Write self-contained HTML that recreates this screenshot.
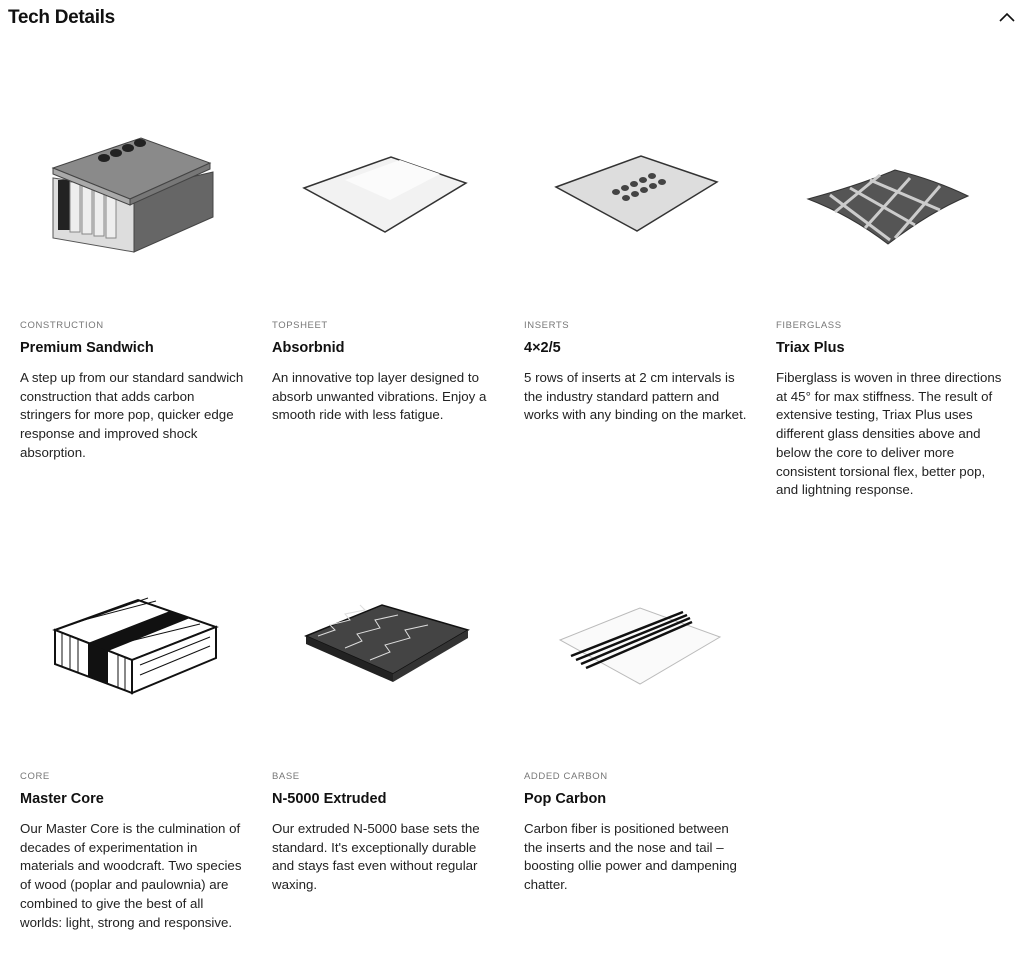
<!DOCTYPE html>
<html><head><meta charset="utf-8"><style>
body{margin:0;width:1024px;height:954px;background:#fff;font-family:"Liberation Sans",sans-serif;color:#111;position:relative;overflow:hidden}
.h{position:absolute;left:8px;top:7px;font-size:19px;font-weight:bold;letter-spacing:-0.3px}
.c{position:absolute;width:240px;white-space:nowrap}
.l{font-size:9.5px;color:#777;letter-spacing:0.6px;height:14px}
.t{font-size:14.5px;font-weight:bold;margin-top:6px;height:18px}
.b{font-size:13.3px;line-height:18.7px;margin-top:11px;color:#222}
svg{position:absolute;left:0;top:0}
</style></head><body>
<div class="h">Tech Details</div>
<svg width="1024" height="954">
<path d="M1000 21 L1007 14 L1014 21" stroke="#111" stroke-width="1.6" fill="none"/>
<!-- construction -->
<polygon points="53,178 53,238 134,252 134,190" fill="#ddd" stroke="#555"/>
<polygon points="134,190 134,252 213,217 213,172" fill="#666" stroke="#444"/>
<rect x="58" y="180" width="12" height="50" fill="#222"/>
<rect x="70" y="182" width="10" height="50" fill="#eee" stroke="#888"/>
<rect x="82" y="184" width="10" height="50" fill="#eee" stroke="#888"/>
<rect x="94" y="186" width="10" height="50" fill="#eee" stroke="#888"/>
<rect x="106" y="188" width="10" height="50" fill="#eee" stroke="#888"/>
<polygon points="53,168 141,138 210,163 130,199" fill="#8a8a8a" stroke="#444"/>
<polygon points="53,168 130,199 130,205 53,174" fill="#aaa" stroke="#444"/>
<polygon points="130,199 210,163 210,169 130,205" fill="#777" stroke="#444"/>
<g fill="#222"><ellipse cx="104" cy="158" rx="6" ry="4"/><ellipse cx="116" cy="153" rx="6" ry="4"/><ellipse cx="128" cy="148" rx="6" ry="4"/><ellipse cx="140" cy="143" rx="6" ry="4"/></g>
<!-- topsheet -->
<polygon points="304,188 391,157 466,183 385,232" fill="#f2f2f2" stroke="#333" stroke-width="1.5"/>
<polygon points="345,180 400,160 440,174 390,200" fill="#fbfbfb"/>
<!-- inserts -->
<polygon points="556,187 641,156 717,182 637,231" fill="#ddd" stroke="#333" stroke-width="1.5"/>
<g fill="#444"><ellipse cx="616" cy="192" rx="4" ry="3"/><ellipse cx="625" cy="188" rx="4" ry="3"/><ellipse cx="634" cy="184" rx="4" ry="3"/><ellipse cx="643" cy="180" rx="4" ry="3"/><ellipse cx="652" cy="176" rx="4" ry="3"/><ellipse cx="626" cy="198" rx="4" ry="3"/><ellipse cx="635" cy="194" rx="4" ry="3"/><ellipse cx="644" cy="190" rx="4" ry="3"/><ellipse cx="653" cy="186" rx="4" ry="3"/><ellipse cx="662" cy="182" rx="4" ry="3"/></g>
<!-- fiberglass -->
<path d="M808,199 Q860,185 895,170 Q935,180 968,196 Q930,212 888,244 Q850,215 808,199Z" fill="#555" stroke="#333"/>
<g stroke="#ccc" stroke-width="3"><line x1="830" y1="195" x2="890" y2="240"/><line x1="850" y1="188" x2="915" y2="225"/><line x1="870" y1="180" x2="940" y2="210"/><line x1="880" y1="175" x2="835" y2="212"/><line x1="910" y1="178" x2="865" y2="228"/><line x1="940" y1="186" x2="895" y2="238"/></g>
<!-- core -->
<polygon points="55,630 138,600 216,627 132,660" fill="#fff" stroke="#111" stroke-width="2"/>
<polygon points="55,630 132,660 132,693 55,664" fill="#fff" stroke="#111" stroke-width="2"/>
<polygon points="132,660 216,627 216,658 132,693" fill="#fff" stroke="#111" stroke-width="2"/>
<polygon points="88,643 170,611 190,618 108,651" fill="#111"/>
<polygon points="88,643 108,651 108,684 88,676" fill="#111"/>
<g stroke="#111" stroke-width="1"><line x1="62" y1="633" x2="62" y2="666"/><line x1="70" y1="636" x2="70" y2="669"/><line x1="78" y1="639" x2="78" y2="672"/><line x1="118" y1="655" x2="118" y2="688"/><line x1="125" y1="658" x2="125" y2="690"/><line x1="140" y1="665" x2="210" y2="637"/><line x1="140" y1="675" x2="210" y2="646"/><line x1="70" y1="625" x2="148" y2="598"/><line x1="80" y1="621" x2="156" y2="601"/><line x1="118" y1="644" x2="200" y2="624"/></g>
<!-- base -->
<polygon points="306,636 382,605 468,630 393,674" fill="#444" stroke="#111" stroke-width="1.5"/>
<polygon points="306,636 393,674 393,682 306,644" fill="#222"/>
<polygon points="393,674 468,630 468,638 393,682" fill="#333"/>
<g stroke="#ddd" stroke-width="1" fill="none"><polyline points="318,636 335,630 330,625 350,620 345,614 365,610 360,605"/><polyline points="345,648 362,641 357,634 380,628 375,620 398,615"/><polyline points="370,660 390,652 385,645 410,638 405,630 428,625"/></g>
<!-- carbon -->
<polygon points="560,640 640,608 720,637 640,684" fill="#fafafa" stroke="#bbb"/>
<g stroke="#111" stroke-width="2.5"><line x1="571" y1="656" x2="683" y2="612"/><line x1="576" y1="660" x2="687" y2="615"/><line x1="581" y1="664" x2="690" y2="618"/><line x1="586" y1="668" x2="692" y2="622"/></g>
</svg>
<div class="c" style="left:20px;top:320px"><div class="l">CONSTRUCTION</div><div class="t">Premium Sandwich</div><div class="b">A step up from our standard sandwich<br>construction that adds carbon<br>stringers for more pop, quicker edge<br>response and improved shock<br>absorption.</div></div>
<div class="c" style="left:272px;top:320px"><div class="l">TOPSHEET</div><div class="t">Absorbnid</div><div class="b">An innovative top layer designed to<br>absorb unwanted vibrations. Enjoy a<br>smooth ride with less fatigue.</div></div>
<div class="c" style="left:524px;top:320px"><div class="l">INSERTS</div><div class="t">4×2/5</div><div class="b">5 rows of inserts at 2 cm intervals is<br>the industry standard pattern and<br>works with any binding on the market.</div></div>
<div class="c" style="left:776px;top:320px"><div class="l">FIBERGLASS</div><div class="t">Triax Plus</div><div class="b">Fiberglass is woven in three directions<br>at 45° for max stiffness. The result of<br>extensive testing, Triax Plus uses<br>different glass densities above and<br>below the core to deliver more<br>consistent torsional flex, better pop,<br>and lightning response.</div></div>
<div class="c" style="left:20px;top:771px"><div class="l">CORE</div><div class="t">Master Core</div><div class="b">Our Master Core is the culmination of<br>decades of experimentation in<br>materials and woodcraft. Two species<br>of wood (poplar and paulownia) are<br>combined to give the best of all<br>worlds: light, strong and responsive.</div></div>
<div class="c" style="left:272px;top:771px"><div class="l">BASE</div><div class="t">N-5000 Extruded</div><div class="b">Our extruded N-5000 base sets the<br>standard. It's exceptionally durable<br>and stays fast even without regular<br>waxing.</div></div>
<div class="c" style="left:524px;top:771px"><div class="l">ADDED CARBON</div><div class="t">Pop Carbon</div><div class="b">Carbon fiber is positioned between<br>the inserts and the nose and tail –<br>boosting ollie power and dampening<br>chatter.</div></div>
</body></html>
